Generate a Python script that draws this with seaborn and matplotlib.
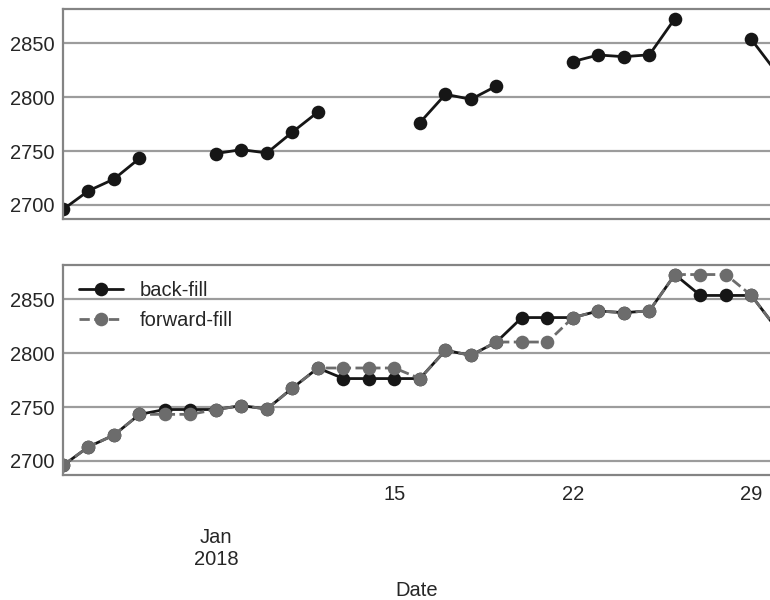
"""S&P 500 closes, January 2018: gaps on non-trading days, then back-fill vs forward-fill."""

import matplotlib

matplotlib.use("Agg")
import matplotlib.dates as mdates
import matplotlib.pyplot as plt
import pandas as pd
import seaborn as sns


TRADING_DAYS = [
    "2018-01-02", "2018-01-03", "2018-01-04", "2018-01-05",
    "2018-01-08", "2018-01-09", "2018-01-10", "2018-01-11", "2018-01-12",
    "2018-01-16", "2018-01-17", "2018-01-18", "2018-01-19",
    "2018-01-22", "2018-01-23", "2018-01-24", "2018-01-25", "2018-01-26",
    "2018-01-29", "2018-01-30",
]
CLOSE = [
    2695.8, 2713.1, 2724.0, 2743.2,
    2747.7, 2751.3, 2748.2, 2767.6, 2786.2,
    2776.4, 2802.6, 2798.0, 2810.3,
    2833.0, 2839.1, 2837.5, 2839.3, 2872.9,
    2853.5, 2822.4,
]
Y_TICKS = [2700, 2750, 2800, 2850]
WEEK_TICKS = ["2018-01-15", "2018-01-22", "2018-01-29"]
WEEK_LABELS = ["15", "22", "29"]
MONTH_TICK = "2018-01-08"
MONTH_LABEL = "Jan\n2018"

GRID = "#9c9c9c"
SPINE = "#848484"
FONT = 14.5


def daily_frame() -> pd.DataFrame:
    s = pd.Series(CLOSE, index=pd.to_datetime(TRADING_DAYS))
    daily = s.asfreq("D")
    df = pd.DataFrame({"Date": daily.index, "close": daily.values})
    # a new segment starts after each missing day so gaps stay open
    df["segment"] = df["close"].isna().cumsum()
    df["bfill"] = daily.bfill().values
    df["ffill"] = daily.ffill().values
    return df


def style_axis(ax) -> None:
    ax.grid(axis="y", color=GRID, linewidth=1.6)
    ax.grid(axis="x", visible=False)
    for side in ["left", "bottom", "top"]:
        ax.spines[side].set_color(SPINE)
        ax.spines[side].set_linewidth(1.6)
    ax.spines["right"].set_visible(False)
    ax.set_yticks(Y_TICKS)
    ax.tick_params(axis="both", which="both", length=0, labelsize=FONT)
    ax.tick_params(axis="y", pad=6)
    ax.set_ylabel("")


def main() -> None:
    sns.set_theme(style="white")
    plt.rcParams["font.family"] = ["Liberation Sans", "DejaVu Sans"]

    df = daily_frame()
    fig = plt.figure(figsize=(7.7, 6.0), dpi=100)
    ax_top = fig.add_axes([63 / 770, 1 - 219 / 600, 707 / 770, 210 / 600])
    ax_bot = fig.add_axes([63 / 770, 1 - 475 / 600, 707 / 770, 210 / 600], sharex=ax_top)

    line_kw = dict(marker="o", markersize=9.8, markeredgewidth=0, linewidth=2.0)
    sns.lineplot(
        data=df.dropna(subset=["close"]), x="Date", y="close", units="segment",
        estimator=None, ax=ax_top, color="#161616", **line_kw,
    )
    sns.lineplot(
        data=df, x="Date", y="bfill", ax=ax_bot, color="#161616",
        label="back-fill", **line_kw,
    )
    sns.lineplot(
        data=df, x="Date", y="ffill", ax=ax_bot, color="#6c6c6c", linestyle="--",
        label="forward-fill", **line_kw,
    )

    for ax in (ax_top, ax_bot):
        style_axis(ax)

    start = mdates.date2num(pd.Timestamp("2018-01-02"))
    ax_bot.set_xlim(start, start + 27.73)

    ax_bot.set_xticks([mdates.date2num(pd.Timestamp(MONTH_TICK))])
    ax_bot.set_xticklabels([MONTH_LABEL])
    ax_bot.set_xticks([mdates.date2num(pd.Timestamp(d)) for d in WEEK_TICKS], minor=True)
    ax_bot.set_xticklabels(WEEK_LABELS, minor=True)
    ax_bot.tick_params(axis="x", which="minor", pad=7)
    ax_bot.tick_params(axis="x", which="major", pad=38)
    ax_bot.set_xlabel("Date", fontsize=FONT, labelpad=9)
    ax_top.tick_params(axis="x", which="both", labelbottom=False)
    ax_top.set_xlabel("")

    ax_bot.legend(loc="upper left", frameon=False, fontsize=FONT,
                  handlelength=2.2, handletextpad=0.8, borderaxespad=0.4,
                  labelspacing=0.55)

    fig.savefig("out.png", dpi=100)
    plt.close(fig)


if __name__ == "__main__":
    main()
